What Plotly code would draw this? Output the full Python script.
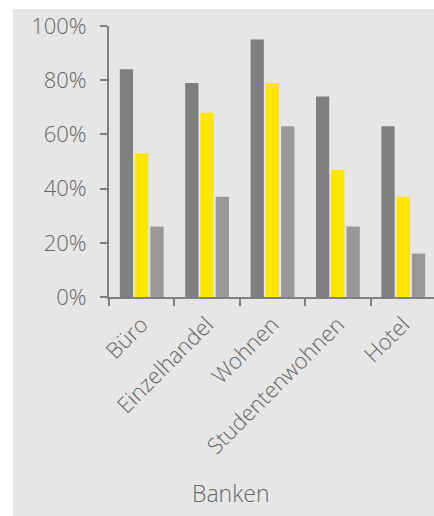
import plotly.graph_objects as go

# Categories and shares per series
categories = ["Büro", "Einzelhandel", "Wohnen", "Studentenwohnen", "Hotel"]
series_dark = [0.84, 0.79, 0.95, 0.74, 0.63]
series_yellow = [0.53, 0.68, 0.79, 0.47, 0.37]
series_light = [0.26, 0.37, 0.63, 0.26, 0.16]
y_ticks = [0, 0.2, 0.4, 0.6, 0.8, 1.0]
y_tick_labels = ["0%", "20%", "40%", "60%", "80%", "100%"]
axis_title = "Banken"

FONT = "Open Sans"
TEXT_COLOR = "#666666"
AXIS_COLOR = "#808080"
PANEL = "#e6e6e6"

fig = go.Figure()
for vals, color in [(series_dark, "#7f7f7f"),
                    (series_yellow, "#ffe600"),
                    (series_light, "#999999")]:
    fig.add_trace(go.Bar(x=categories, y=vals, marker_color=color,
                         marker_line_width=0, showlegend=False))

W, H = 434, 516
L, R, T, B = 109, 0, 26, 219
pw, ph = W - L - R, H - T - B

fig.update_layout(
    width=W, height=H,
    margin=dict(l=L, r=R, t=T, b=B, pad=0),
    paper_bgcolor="white",
    plot_bgcolor=PANEL,
    barmode="group",
    bargap=0.30,
    bargroupgap=0.13,
    font=dict(family=FONT, color=TEXT_COLOR, size=22, weight=300),
    shapes=[dict(type="rect", xref="paper", yref="paper",
                 x0=(13 - L) / pw, x1=1.05,
                 y0=-(B + 10) / ph, y1=1 + (T - 9) / ph,
                 fillcolor=PANEL, line_width=0, layer="below")],
    annotations=[dict(text=axis_title, xref="paper", yref="paper",
                      x=(231 - L) / pw, y=-(493 - (T + ph)) / ph,
                      xanchor="center", yanchor="middle", showarrow=False,
                      font=dict(family=FONT, size=23, weight=300,
                                color=TEXT_COLOR))],
)

fig.update_xaxes(
    range=[-0.5, 4.47],
    showline=True, linecolor=AXIS_COLOR, linewidth=2,
    ticks="outside", ticklen=7, tickwidth=2, tickcolor=AXIS_COLOR,
    tickson="boundaries",
    tickangle=-45,
    ticklabelstandoff=4,
    tickfont=dict(family=FONT, size=22, weight=300, color=TEXT_COLOR),
    showgrid=False, zeroline=False, fixedrange=True,
)
fig.update_yaxes(
    range=[0, 1],
    tickvals=y_ticks, ticktext=y_tick_labels,
    showline=True, linecolor=AXIS_COLOR, linewidth=2,
    ticks="outside", ticklen=7, tickwidth=2, tickcolor=AXIS_COLOR,
    ticklabelstandoff=9,
    tickfont=dict(family=FONT, size=22, weight=300, color=TEXT_COLOR),
    showgrid=False, zeroline=False, fixedrange=True,
)

fig.write_html("out.html", config={"displayModeBar": False})
